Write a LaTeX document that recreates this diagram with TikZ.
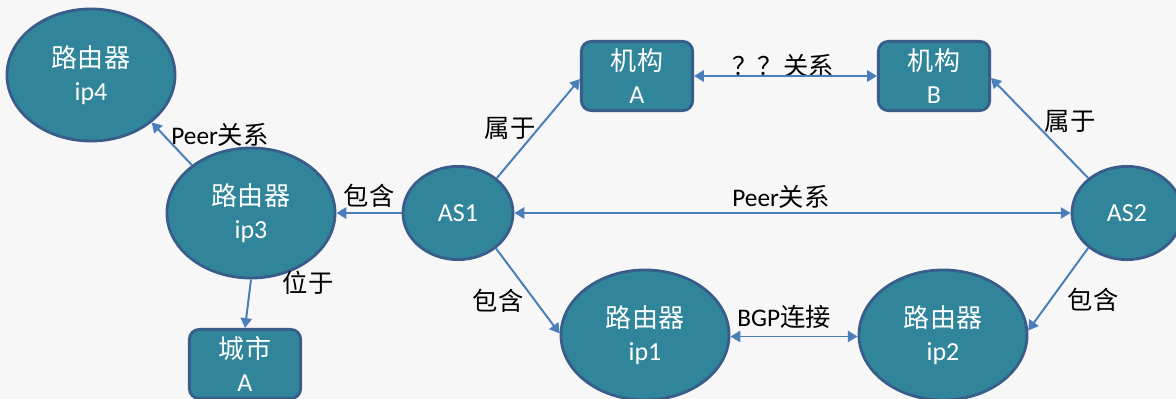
\documentclass[tikz,border=0pt]{standalone}
\usepackage{fontspec}
\setmainfont{Carlito}
\newfontfamily\cjk{Noto Sans CJK SC}
\usetikzlibrary{shapes.geometric,arrows.meta}
\definecolor{bgcol}{HTML}{F7F7F7}
\definecolor{nodefill}{HTML}{31859B}
\definecolor{nodeline}{HTML}{385D8A}
\definecolor{linkcol}{HTML}{4A7EBB}

\begin{document}
\begin{tikzpicture}[x=0.025cm, y=-0.025cm,
  router/.style={ellipse, draw=nodeline, fill=nodefill, line width=2pt, text=white,
    align=center, inner sep=0pt, minimum width=4.2cm, minimum height=3.25cm,
    font=\fontsize{18.5}{23}\selectfont},
  asnode/.style={router, minimum width=2.75cm, minimum height=2.33cm},
  place/.style={rectangle, rounded corners=7pt, draw=nodeline, fill=nodefill,
    line width=2pt, text=white, align=center, inner sep=0pt,
    minimum width=2.78cm, minimum height=1.73cm, font=\fontsize{18.5}{23}\selectfont},
  lab/.style={inner sep=0pt, font=\fontsize{18}{22}\selectfont},
  link/.style={draw=linkcol, line width=1.4pt, -{Triangle[length=7pt,width=8pt]}},
  dlink/.style={link, {Triangle[length=7pt,width=8pt]}-{Triangle[length=7pt,width=8pt]}}]
  \useasboundingbox (0,0) rectangle (1176,399);
  \fill[bgcol] (0,0) rectangle (1176,399);

  % Nodes
  \node[router, minimum height=3.3cm] (ip4) at (91,75) {{\cjk 路由器}\\ip4};
  \node[router] (ip3) at (251,213) {{\cjk 路由器}\\ip3};
  \node[router] (ip1) at (645,335) {{\cjk 路由器}\\ip1};
  \node[router] (ip2) at (943,335) {{\cjk 路由器}\\ip2};
  \node[asnode] (as1) at (458,213) {AS1};
  \node[asnode] (as2) at (1127,213) {AS2};
  \node[place] (orgA) at (637,76) {{\cjk 机构}\\A};
  \node[place] (orgB) at (934,76) {{\cjk 机构}\\B};
  \node[place] (cityA) at (245,364) {{\cjk 城市}\\A};

  % Labels
  \node[lab] (peerL) at (220,135) {Peer{\cjk 关系}};
  \node[lab] (hasL) at (369,196) {\cjk 包含};
  \node[lab] (inL) at (308,283) {\cjk 位于};
  \node[lab] (ofA) at (510,128) {\cjk 属于};
  \node[lab] (ofB) at (1070,121) {\cjk 属于};
  \node[lab] (relAB) at (783,66) {\cjk ？？关系};
  \node[lab] (peerAS) at (781,197) {Peer{\cjk 关系}};
  \node[lab] (has1) at (498,301) {\cjk 包含};
  \node[lab] (has2) at (1093,300) {\cjk 包含};
  \node[lab] (bgpL) at (784,317) {BGP{\cjk 连接}};

  % Drawing
  \draw[link] (ip3.141) -- (ip4.-38);
  \draw[link] (as1.west) -- (ip3.east);
  \draw[link] (ip3.south) -- (cityA.north);
  \draw[link] (as1.42) -- (orgA.183);
  \draw[link] (as2.138) -- (orgB.-2);
  \draw[dlink] (orgA.east) -- (orgB.west);
  \draw[dlink] (as1.east) -- (as2.west);
  \draw[link] (as1.-43) -- (ip1.179);
  \draw[link] (as2.-138) -- (ip2.3);
  \draw[dlink] (ip1.-1) -- (ip2.181);
\end{tikzpicture}
\end{document}
